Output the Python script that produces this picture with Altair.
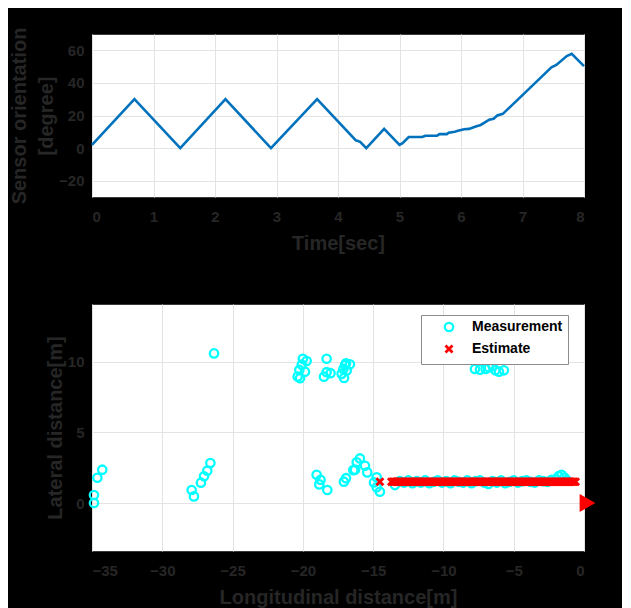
import altair as alt
import pandas as pd

# ---- top panel: sensor orientation vs time ----
time_s = [0, 0.69, 1.435, 2.17, 2.91, 3.66, 4.29, 4.36, 4.46, 4.75, 5.0, 5.05, 5.15, 5.37,
          5.42, 5.61, 5.65, 5.77, 5.8, 5.9, 5.95, 6.05, 6.13, 6.24, 6.32, 6.46, 6.53, 6.59,
          6.68, 7.0, 7.33, 7.47, 7.55, 7.72, 7.8, 8.0]
orient_deg = [2, 30, 0, 30, 0, 30, 4.8, 3.8, 0, 11.8, 2, 3, 6.8, 6.8,
              7.6, 7.6, 8.6, 8.6, 9.4, 10, 10.6, 11.6, 11.8, 13.3, 14.2, 17.4, 18, 20,
              21, 32.5, 44.5, 49.5, 51, 56.5, 57.8, 50.3]

# ---- bottom panel: measurements ----
meas_x = [-34.86, -34.86, -34.62, -34.27,
          -27.91, -27.75, -27.25, -27.03, -26.8, -26.58, -26.32,
          -20.37, -20.2, -20.25, -20.08, -20.0, -19.73, -19.85,
          -18.31, -18.5, -18.31, -18.03,
          -17.24, -17.12, -17.0, -16.93, -17.07, -16.88, -16.65,
          -19.02, -18.74, -18.83, -18.26,
          -17.08, -16.93, -16.41, -16.29, -16.17, -15.94, -15.58, -15.42,
          -14.75, -14.94, -14.75, -14.52,
          -7.76, -7.4, -7.0, -6.76, -6.5, -6.3, -6.05, -5.7,
          -13.45, -13.1, -12.8, -12.5, -12.2, -11.9, -11.6, -11.3, -11.0, -10.7,
          -10.4, -10.1, -9.8, -9.5, -9.2, -8.9, -8.6, -8.3, -8.0, -7.7, -7.4,
          -7.1, -6.8, -6.5, -6.2, -5.9, -5.6, -5.3, -5.0, -4.7, -4.4, -4.1,
          -3.8, -3.5, -3.2, -2.9, -2.6, -2.3, -2.0, -1.8, -1.6, -1.4, -1.2]
meas_y = [0.57, 0.0, 1.79, 2.36,
          0.92, 0.47, 1.44, 1.89, 2.29, 2.83, 10.6,
          8.96, 8.84, 9.43, 9.8, 10.22, 10.06, 9.3,
          10.22, 8.95, 9.27, 9.2,
          9.15, 9.5, 9.78, 9.9, 8.86, 9.39, 9.83,
          2.0, 1.65, 1.32, 0.92,
          1.51, 1.76, 2.33, 2.36, 2.88, 3.16, 2.64, 2.17,
          1.82, 1.46, 1.11, 0.8,
          9.5, 9.45, 9.5, 9.6, 9.7, 9.4, 9.3, 9.4,
          1.27, 1.55, 1.45, 1.6, 1.4, 1.55, 1.45, 1.6, 1.4, 1.5,
          1.6, 1.45, 1.55, 1.4, 1.6, 1.5, 1.45, 1.6, 1.4, 1.55, 1.6,
          1.45, 1.35, 1.55, 1.45, 1.6, 1.4, 1.5, 1.6, 1.45, 1.55, 1.6,
          1.5, 1.45, 1.6, 1.55, 1.5, 1.65, 1.7, 1.9, 2.0, 1.8, 1.6]

# ---- bottom panel: estimates (dense track) ----
est_x = [-14.52,
         -13.7, -13.6, -13.5, -13.4, -13.3, -13.2, -13.1, -13.0, -12.9, -12.8,
         -12.7, -12.6, -12.5, -12.4, -12.3, -12.2, -12.1, -12.0, -11.9, -11.8,
         -11.7, -11.6, -11.5, -11.4, -11.3, -11.2, -11.1, -11.0, -10.9, -10.8,
         -10.7, -10.6, -10.5, -10.4, -10.3, -10.2, -10.1, -10.0, -9.9, -9.8,
         -9.7, -9.6, -9.5, -9.4, -9.3, -9.2, -9.1, -9.0, -8.9, -8.8,
         -8.7, -8.6, -8.5, -8.4, -8.3, -8.2, -8.1, -8.0, -7.9, -7.8,
         -7.7, -7.6, -7.5, -7.4, -7.3, -7.2, -7.1, -7.0, -6.9, -6.8,
         -6.7, -6.6, -6.5, -6.4, -6.3, -6.2, -6.1, -6.0, -5.9, -5.8,
         -5.7, -5.6, -5.5, -5.4, -5.3, -5.2, -5.1, -5.0, -4.9, -4.8,
         -4.7, -4.6, -4.5, -4.4, -4.3, -4.2, -4.1, -4.0, -3.9, -3.8,
         -3.7, -3.6, -3.5, -3.4, -3.3, -3.2, -3.1, -3.0, -2.9, -2.8,
         -2.7, -2.6, -2.5, -2.4, -2.3, -2.2, -2.1, -2.0, -1.9, -1.8,
         -1.7, -1.6, -1.5, -1.4, -1.3, -1.2, -1.1, -1.0, -0.9, -0.8,
         -0.7, -0.6]
est_y = [1.5] * len(est_x)

# ---- ego vehicle ----
ego_x = [0.25]
ego_y = [0.0]

series_names = ["Measurement", "Estimate"]
series_colors = ["#00FFFF", "#FF0000"]
x_mark_path = "M-1,-1L1,1M-1,1L1,-1"

FONT = "Liberation Sans"
TXT = "#262626"

df_top = pd.DataFrame({"t": time_s, "v": orient_deg})
df_pts = pd.concat([
    pd.DataFrame({"x": meas_x, "y": meas_y, "series": series_names[0], "ord": 0}),
    pd.DataFrame({"x": est_x, "y": est_y, "series": series_names[1], "ord": 1}),
], ignore_index=True)
df_ego = pd.DataFrame({"x": ego_x, "y": ego_y})

top = alt.Chart(df_top).mark_line(color="#0072BD", strokeWidth=2.6).encode(
    x=alt.X("t:Q", scale=alt.Scale(domain=[0, 8], nice=False, zero=False),
            axis=alt.Axis(values=list(range(9)), title="Time[sec]", format="d")),
    y=alt.Y("v:Q", scale=alt.Scale(domain=[-30, 70], nice=False, zero=False),
            axis=alt.Axis(values=[-20, 0, 20, 40, 60], title=["Sensor orientation", "[degree]"],
                          titleLineHeight=27)),
).properties(width=492, height=163)

xb = alt.X("x:Q", scale=alt.Scale(domain=[-35, 0], nice=False, zero=False),
           axis=alt.Axis(values=[-35, -30, -25, -20, -15, -10, -5, 0], title="Longitudinal distance[m]"))
yb = alt.Y("y:Q", scale=alt.Scale(domain=[-3.4, 14.1], nice=False, zero=False),
           axis=alt.Axis(values=[0, 5, 10], title="Lateral distance[m]"))

pts = alt.Chart(df_pts).mark_point(filled=False, opacity=1).encode(
    x=xb, y=yb,
    color=alt.Color("series:N", scale=alt.Scale(domain=series_names, range=series_colors),
                    legend=alt.Legend(title=None, orient="none", legendX=329, legendY=11,
                                      fillColor="white", strokeColor="#8c8c8c", padding=5,
                                      labelFont=FONT, labelFontSize=14, labelFontWeight="bold",
                                      labelColor="black", symbolOffset=16, labelOffset=16,
                                      rowPadding=3)),
    shape=alt.Shape("series:N", scale=alt.Scale(domain=series_names, range=["circle", x_mark_path])),
    size=alt.Size("series:N", scale=alt.Scale(domain=series_names, range=[70, 49])),
    strokeWidth=alt.StrokeWidth("series:N", scale=alt.Scale(domain=series_names, range=[2.3, 2.8])),
    order=alt.Order("ord:Q"),
)

ego = alt.Chart(df_ego).mark_point(shape="triangle-right", filled=True, color="#FF0000",
                                   size=330, opacity=1).encode(x="x:Q", y="y:Q")

bottom = alt.layer(pts, ego).properties(width=492, height=247)

chart = alt.vconcat(top, bottom, spacing=107, bounds="flush").resolve_scale(
    color="independent", shape="independent", size="independent", strokeWidth="independent"
).resolve_legend(
    color="independent", shape="independent", size="independent", strokeWidth="independent"
).properties(
    padding={"left": 1, "top": 18, "right": 26, "bottom": 3},
    background="black",
).configure_view(
    fill="white", stroke="#3a3a3a", strokeWidth=1
).configure_axis(
    labelFont=FONT, labelFontSize=15, labelFontWeight="bold", labelColor=TXT,
    titleFont=FONT, titleFontSize=20, titleFontWeight="bold", titleColor=TXT,
    gridColor="#e3e3e3", gridWidth=1, domain=False, ticks=False,
).configure_axisY(labelPadding=8, titlePadding=2).configure_axisX(labelPadding=12, titlePadding=9)

chart.save("out.html", embed_options={"renderer": "svg", "actions": False})
